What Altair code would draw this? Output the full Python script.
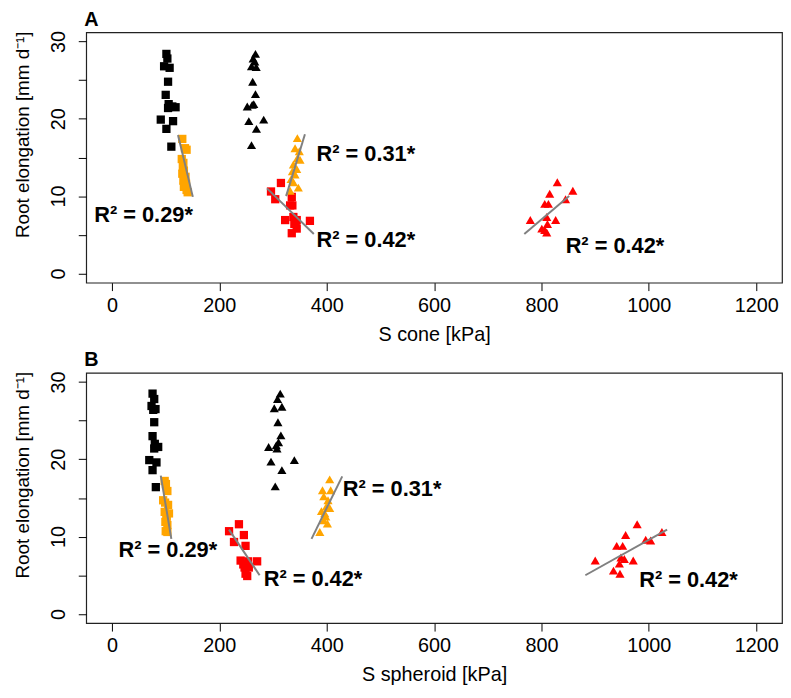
import altair as alt
import pandas as pd

FONT = "Liberation Sans"

# ---------------- Panel A : S cone ----------------
a_blk_sq_x = [101.4, 103.2, 97.1, 107.4, 104.5, 100.1, 105.6, 112.4, 118.5, 104.5, 90.9, 113.8, 101.4, 110.6]
a_blk_sq_y = [28.4, 27.8, 26.8, 26.6, 24.8, 23.1, 21.9, 21.6, 21.5, 21.4, 19.9, 19.7, 18.7, 16.4]
a_blk_tr_x = [267.3, 263.0, 266.0, 259.9, 268.6, 262.1, 267.3, 252.0, 261.2, 264.1, 254.9, 282.6, 269.1, 259.9]
a_blk_tr_y = [28.4, 27.8, 27.4, 26.8, 26.7, 24.8, 23.2, 21.6, 21.8, 21.9, 19.7, 19.9, 18.7, 16.6]
a_org_sq_x = [131, 136, 139, 130, 133, 132, 134, 131, 137, 133, 138, 134, 139, 141]
a_org_sq_y = [17.4, 16.2, 16.0, 14.8, 14.3, 13.8, 13.3, 12.9, 12.5, 12.0, 11.6, 11.2, 10.8, 10.5]
a_red_sq_x = [296.2, 314.7, 304.1, 334.9, 331.8, 336.0, 322.6, 337.9, 344.1, 368.7, 339.7, 344.1, 334.9, 342.3]
a_red_sq_y = [10.6, 11.7, 9.6, 9.9, 8.8, 8.8, 6.9, 7.3, 6.9, 6.8, 6.4, 5.8, 5.2, 6.4]
a_org_tr_x = [345.3, 341.0, 348.9, 345.3, 350.2, 337.9, 344.1, 336.0, 341.0, 333.6, 337.9, 331.8, 347.1]
a_org_tr_y = [17.5, 16.2, 15.8, 14.9, 14.7, 14.1, 13.5, 13.2, 12.8, 12.2, 11.8, 10.7, 11.1]
a_red_tr_x = [829.5, 858.4, 815.3, 844.8, 806.1, 812.9, 779.2, 809.8, 826.4, 811.1, 800.6, 809.8, 806.1]
a_red_tr_y = [11.8, 10.7, 10.3, 9.6, 9.0, 9.0, 6.9, 7.3, 6.9, 6.4, 5.8, 5.3, 5.6]
# regression lines: [x1, y1, x2, y2]
a_fit_org_sq = [123.0, 17.9, 150.6, 9.9]
a_fit_red_sq = [288.8, 11.0, 376.0, 5.1]
a_fit_org_tr = [324.4, 10.0, 359.4, 18.0]
a_fit_red_tr = [768.0, 5.1, 851.6, 10.0]
a_lab_text = ["R² = 0.29*", "R² = 0.31*", "R² = 0.42*", "R² = 0.42*"]
a_lab_x = [-33, 381, 381, 845]
a_lab_y = [7.6, 15.4, 4.3, 3.6]

# ---------------- Panel B : S spheroid ----------------
b_blk_sq_x = [75.6, 78.7, 73.7, 81.1, 76.9, 78.7, 75.6, 79.8, 86.1, 78.7, 69.5, 82.9, 75.6, 81.7]
b_blk_sq_y = [28.5, 27.8, 26.9, 26.5, 26.4, 24.8, 23.0, 22.0, 21.6, 21.4, 19.9, 19.6, 18.6, 16.4]
b_blk_tr_x = [313.4, 308.4, 302.3, 316.5, 309.1, 314.6, 291.8, 306.0, 310.2, 307.3, 296.2, 339.7, 316.5, 304.1]
b_blk_tr_y = [28.5, 27.8, 26.6, 26.8, 24.8, 23.1, 21.6, 21.8, 22.2, 21.4, 19.7, 19.9, 18.6, 16.5]
b_org_sq_x = [98.2, 103.2, 95.3, 104.5, 98.2, 106.2, 101.4, 103.2, 100.1, 103.2, 100.5, 99.0, 102.0, 99.5]
b_org_sq_y = [17.2, 15.9, 14.7, 14.1, 13.2, 13.0, 12.2, 11.5, 10.7, 10.6, 16.8, 14.4, 12.6, 11.9]
b_red_sq_x = [236.5, 218.1, 245.7, 227.3, 248.8, 239.6, 253.8, 270.4, 244.6, 254.9, 248.8, 251.9, 247.0]
b_red_sq_y = [11.6, 10.7, 10.2, 9.3, 8.8, 6.9, 6.8, 6.8, 6.4, 6.0, 5.2, 4.9, 6.0]
b_org_tr_x = [405.5, 392.1, 407.4, 394.5, 402.4, 399.4, 390.2, 405.5, 396.3, 398.2, 394.5, 401.3, 387.1]
b_org_tr_y = [17.4, 16.0, 16.0, 15.2, 14.7, 13.9, 13.3, 13.7, 13.0, 12.6, 12.1, 11.7, 10.6]
b_red_tr_x = [978.2, 956.7, 940.1, 951.2, 994.1, 1003.3, 1024.3, 900.1, 948.0, 954.3, 970.9, 945.1, 934.1, 946.2]
b_red_tr_y = [11.6, 10.2, 8.8, 8.8, 9.6, 9.5, 10.6, 6.9, 7.3, 7.1, 6.9, 6.5, 5.6, 5.2]
b_fit_org_sq = [90.9, 17.9, 110.6, 9.7]
b_fit_red_sq = [218.0, 10.9, 275.0, 5.0]
b_fit_org_tr = [371.7, 9.7, 428.9, 17.8]
b_fit_red_tr = [881.7, 5.0, 1034.0, 10.9]
b_lab_text = ["R² = 0.29*", "R² = 0.42*", "R² = 0.31*", "R² = 0.42*"]
b_lab_x = [12.3, 282.6, 430, 982]
b_lab_y = [8.3, 4.5, 16.2, 4.4]

x_ticks = [0, 200, 400, 600, 800, 1000, 1200]
y_ticks = [0, 5, 10, 15, 20, 25, 30]
group_names = ["black", "orange", "red"]
group_colors = ["#000000", "#FFA500", "#FF0000"]


def pts(groups):
    rows = []
    for name, xs, ys in groups:
        for x, y in zip(xs, ys):
            rows.append({"x": x, "y": y, "g": name})
    return pd.DataFrame(rows)


def fits(segs):
    rows = []
    for i, s in enumerate(segs):
        rows.append({"x": s[0], "y": s[1], "seg": i})
        rows.append({"x": s[2], "y": s[3], "seg": i})
    return pd.DataFrame(rows)


def panel(letter, xtitle, sq, tr, segs, lx, ly, lt):
    xs = alt.Scale(domain=[-48, 1248], nice=False, zero=False)
    ys = alt.Scale(domain=[-1.2, 31.2], nice=False, zero=False)
    xaxis = alt.Axis(values=x_ticks, title=xtitle, format="d", tickSize=8, labelPadding=5,
                     titlePadding=9, domain=False, grid=False, labelFontSize=20,
                     titleFontSize=20, labelFont=FONT, titleFont=FONT,
                     titleFontWeight="normal", tickColor="black", labelColor="black",
                     titleColor="black", labelFlush=False, labelOverlap=False)
    yaxis = alt.Axis(values=y_ticks, title="Root elongation [mm d⁻¹]", tickSize=8,
                     labelPadding=10, titlePadding=16, domain=False, grid=False,
                     labelExpr="datum.value % 10 == 0 ? datum.label : ''",
                     labelAngle=270, labelAlign="center", labelBaseline="bottom",
                     labelFontSize=20, titleFontSize=19, labelFont=FONT, titleFont=FONT,
                     titleFontWeight="normal", tickColor="black", labelColor="black",
                     titleColor="black", labelOverlap=False, labelFlush=False, titleY=103)
    color = alt.Color("g:N", scale=alt.Scale(domain=group_names, range=group_colors), legend=None)
    x = alt.X("x:Q", scale=xs, axis=xaxis)
    y = alt.Y("y:Q", scale=ys, axis=yaxis)
    squares = alt.Chart(pts(sq)).mark_point(shape="square", filled=True, opacity=1, size=70).encode(x=x, y=y, color=color)
    tris = alt.Chart(pts(tr)).mark_point(shape="triangle-up", filled=True, opacity=1, size=85).encode(x=x, y=y, color=color)
    lines = alt.Chart(fits(segs)).mark_line(color="#808080", strokeWidth=2).encode(
        x=alt.X("x:Q", scale=xs), y=alt.Y("y:Q", scale=ys), detail="seg:N")
    labels = alt.Chart(pd.DataFrame({"x": lx, "y": ly, "t": lt})).mark_text(
        align="left", baseline="middle", fontWeight="bold", fontSize=22, font=FONT, color="black"
    ).encode(x=alt.X("x:Q", scale=xs), y=alt.Y("y:Q", scale=ys), text="t:N")
    return alt.layer(squares, tris, lines, labels).properties(
        width=703, height=253,
        title=alt.TitleParams(letter, anchor="start", frame="group", fontSize=20, fontWeight="bold",
                              font=FONT, offset=1, dx=-2, color="black"))


pa = panel("A", "S cone [kPa]",
           [("black", a_blk_sq_x, a_blk_sq_y), ("orange", a_org_sq_x, a_org_sq_y), ("red", a_red_sq_x, a_red_sq_y)],
           [("black", a_blk_tr_x, a_blk_tr_y), ("orange", a_org_tr_x, a_org_tr_y), ("red", a_red_tr_x, a_red_tr_y)],
           [a_fit_org_sq, a_fit_red_sq, a_fit_org_tr, a_fit_red_tr], a_lab_x, a_lab_y, a_lab_text)
pb = panel("B", "S spheroid [kPa]",
           [("black", b_blk_sq_x, b_blk_sq_y), ("orange", b_org_sq_x, b_org_sq_y), ("red", b_red_sq_x, b_red_sq_y)],
           [("black", b_blk_tr_x, b_blk_tr_y), ("orange", b_org_tr_x, b_org_tr_y), ("red", b_red_tr_x, b_red_tr_y)],
           [b_fit_org_sq, b_fit_red_sq, b_fit_org_tr, b_fit_red_tr], b_lab_x, b_lab_y, b_lab_text)

chart = alt.vconcat(pa, pb, spacing=4).properties(
    padding={"left": 5, "top": -3, "right": 0, "bottom": 0}
).configure(background="white").configure_view(stroke="#222222", strokeWidth=1.2)

chart.save("out.html", embed_options={"renderer": "svg", "actions": False})
